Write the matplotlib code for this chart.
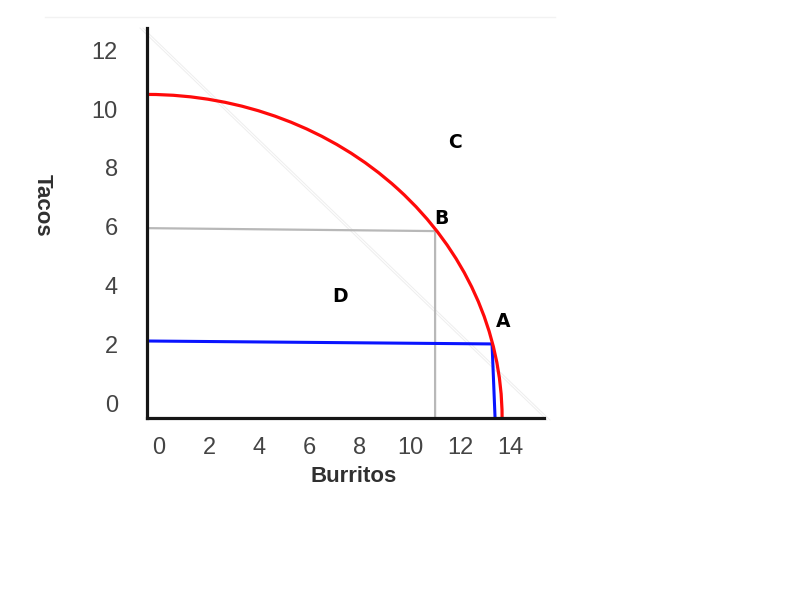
import matplotlib
matplotlib.use('Agg')
import matplotlib.pyplot as plt
from matplotlib.patches import Arc
from matplotlib.lines import Line2D

plt.rcParams.update({'font.family': ['Liberation Sans', 'DejaVu Sans']})

# axis ticks
x_ticks = [0, 2, 4, 6, 8, 10, 12, 14]
y_ticks = [0, 2, 4, 6, 8, 10, 12]

# production possibilities frontier intercepts
ppf_burritos_max = 13.67
ppf_tacos_max = 10.5

# guide lines to point B (gray) and point A (blue)
gray_x = [-0.48, 11.0, 11.0]
gray_y = [5.95, 5.85, -0.51]
blue_x = [-0.48, 13.27, 13.39]
blue_y = [2.11, 2.01, -0.51]

# faint diagonal in the background
diag_x = [-0.76, 15.46]
diag_y = [12.76, -0.58]

# point labels
point_names = ['A', 'B', 'C', 'D']
point_x = [13.71, 11.24, 11.79, 7.21]
point_y = [2.76, 6.29, 8.88, 3.64]

xlo, xhi = -0.48, 15.34
ylo, yhi = -0.51, 12.76

fig = plt.figure(figsize=(8, 6), dpi=100)
ax = fig.add_axes([147 / 800, 1 - 418 / 600, 397 / 800, 390 / 600])
ax.set_xlim(xlo, xhi)
ax.set_ylim(ylo, yhi)

# background artefacts
fig.add_artist(Line2D([45 / 800, 555 / 800], [1 - 17 / 600, 1 - 17 / 600],
                      color='#f2f2f2', lw=1))
for off in (0, 0.12):
    ax.plot([p + off for p in diag_x], diag_y, color='#eeeeee', lw=0.7,
            clip_on=False, zorder=1)

ax.plot(gray_x, gray_y, color='#b8b8b8', lw=1.6, zorder=2)
ax.plot(blue_x, blue_y, color='#0a14ff', lw=2.2, zorder=3)

frontier = Arc((xlo, ylo), 2 * (ppf_burritos_max - xlo), 2 * (ppf_tacos_max - ylo),
               theta1=0, theta2=90, color='#ff0a0a', lw=2.3, zorder=4)
ax.add_patch(frontier)

for name, px, py in zip(point_names, point_x, point_y):
    ax.text(px, py, name, ha='center', va='center', fontsize=13.5,
            fontweight='bold', family=['DejaVu Sans'], color='black')

for side in ['top', 'right']:
    ax.spines[side].set_visible(False)
for side in ['left', 'bottom']:
    ax.spines[side].set_linewidth(2.3)
    ax.spines[side].set_color('#151515')
    ax.spines[side].set_zorder(5)

ax.set_xticks(x_ticks)
ax.set_yticks(y_ticks)
ax.tick_params(axis='x', length=0, pad=14, labelsize=17, labelcolor='#444444')
ax.tick_params(axis='y', length=0, pad=21, labelsize=17, labelcolor='#444444')

ax.set_xlabel('Burritos', fontsize=16, fontweight='bold', color='#303030', va='center')
ax.xaxis.set_label_coords(0.521, -0.151)
ax.set_ylabel('Tacos', fontsize=16, fontweight='bold', color='#303030',
              rotation=270, va='center')
ax.yaxis.set_label_coords(-0.265, 0.546)

fig.savefig('out.png', dpi=100)
